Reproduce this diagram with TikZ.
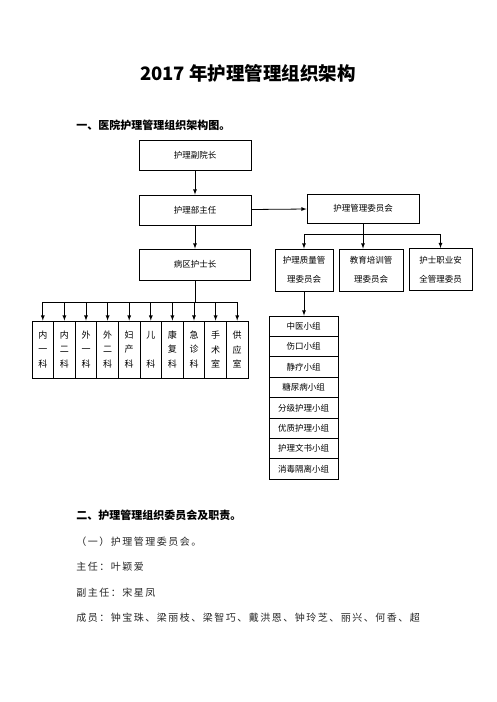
\documentclass[tikz,border=0pt]{standalone}
\usepackage{fontspec}
\setmainfont{Noto Sans CJK SC}

\begin{document}
\begin{tikzpicture}[x=1pt,y=-1pt,>=latex,line width=0.8pt]
        \tikzstyle{every node}+=[inner sep=0pt]
        \tikzstyle{box}=[draw,minimum width=112pt,minimum height=30pt,font=\fontsize{8.5}{10}\selectfont]
        \tikzstyle{cmtbox}=[draw,minimum height=42pt,align=center,font=\fontsize{8.5}{19}\selectfont]
        \tikzstyle{grp}=[draw,minimum width=69pt,minimum height=20.4pt,font=\fontsize{8.5}{10}\selectfont]
        \tikzstyle{dept}=[draw,minimum width=21.6pt,minimum height=57pt,align=center,font=\fontsize{9}{14.5}\selectfont]
        \tikzstyle{txt}=[anchor=west,font=\fontsize{10}{12}\selectfont\addfontfeatures{LetterSpace=15},text=black!85]
        \useasboundingbox (0,0) rectangle (496,702);
        % headings
        \node (title) at (248,73) {\fontsize{18.5}{20}\selectfont\bfseries 2017 年护理管理组织架构};
        \node [anchor=west] (head1) at (76,125) {\fontsize{11}{12}\selectfont\bfseries 一、医院护理管理组织架构图。};
        % main line
        \node [box] (vp) at (195,155.5) {护理副院长};
        \node [box] (dir) at (195,210) {护理部主任};
        \node [box,minimum width=111pt,minimum height=31pt] (hn) at (195,264.5) {病区护士长};
        \node [box,minimum height=29pt] (cmt) at (363,208.5) {护理管理委员会};
        \draw [->] (vp) -- (dir);
        \draw [->] (dir) -- (hn);
        \draw [->] (dir) -- (cmt);
        % committees
        \node [cmtbox,minimum width=58pt] (qc) at (304,270) {护理质量管\\理委员会};
        \node [cmtbox,minimum width=64pt] (edu) at (371,270) {教育培训管\\理委员会};
        \node [cmtbox,minimum width=63pt] (saf) at (440.5,269.5) {护士职业安\\全管理委员};
        \coordinate (cbar) at (0,234);
        \draw (qc.north |- cbar) -- (saf.north |- cbar);
        \draw [->] (cmt.south) -- (cmt.south |- edu.north);
        \draw [->] (qc.north |- cbar) -- (qc.north);
        \draw [->] (saf.north |- cbar) -- (saf.north);
        % groups
        \foreach \t [count=\i] in {中医小组,伤口小组,静疗小组,糖尿病小组,分级护理小组,优质护理小组,护理文书小组,消毒隔离小组}
            \node [grp] (g\i) at (303.5,{326.2+20.4*(\i-1)}) {\t};
        \draw [->] (qc.south) -- (qc.south |- g1.north);
        % departments
        \foreach \i/\x/\t in {1/42.8/{内\\一\\科},2/64.4/{内\\二\\科},3/86/{外\\一\\科},4/107.6/{外\\二\\科},5/129.2/{妇\\产\\科},6/150.8/{儿\\\mbox{}\\科},7/172.4/{康\\复\\科},8/194/{急\\诊\\科},9/215.6/{手\\术\\室},10/237.2/{供\\应\\室}}
            \node [dept] (d\i) at (\x,349.5) {\t};
        \coordinate (dbar) at (0,302);
        \draw (d1.north |- dbar) -- (d10.north |- dbar);
        \draw (hn.south) -- (hn.south |- dbar);
        \foreach \i in {1,...,10}
            \draw [->] (d\i.north |- dbar) -- (d\i.north);
        % text below
        \node [anchor=west] (head2) at (76,515) {\fontsize{11}{12}\selectfont\bfseries 二、护理管理组织委员会及职责。};
        \node [txt] (sub1) at (76,542) {（一）护理管理委员会。};
        \node [txt] (chief) at (76,567) {主任：叶颖爱};
        \node [txt] (vice) at (76,593) {副主任：宋星凤};
        \node [txt] (mem) at (76,618) {成员：钟宝珠、梁丽枝、梁智巧、戴洪恩、钟玲芝、丽兴、何香、超};
\end{tikzpicture}
\end{document}
